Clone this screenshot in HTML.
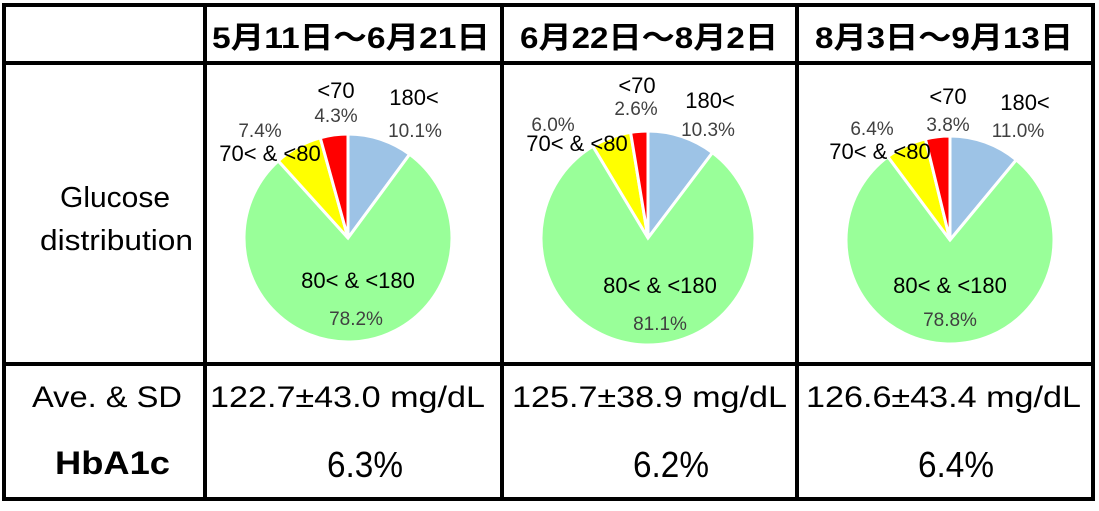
<!DOCTYPE html>
<html><head><meta charset="utf-8"><style>
body{margin:0;background:#fff;width:1099px;height:506px;overflow:hidden}
svg text{font-family:"Liberation Sans","Noto Sans CJK JP",sans-serif}
</style></head><body>
<svg id="s" width="1099" height="506">
<g stroke="#000" stroke-width="4" fill="none">
<rect x="4" y="5" width="1089" height="494"/>
<line x1="4" y1="63" x2="1093" y2="63"/>
<line x1="4" y1="364" x2="1093" y2="364"/>
<line x1="205" y1="5" x2="205" y2="499"/>
<line x1="502" y1="5" x2="502" y2="499"/>
<line x1="797" y1="5" x2="797" y2="499"/>
</g>
<g font-weight="bold" font-size="30">
<text x="212" y="48" textLength="278" lengthAdjust="spacingAndGlyphs">5月11日～6月21日</text>
<text x="520" y="48" textLength="258" lengthAdjust="spacingAndGlyphs">6月22日～8月2日</text>
<text x="815" y="48" textLength="258" lengthAdjust="spacingAndGlyphs">8月3日～9月13日</text>
</g>
<text x="60" y="207" font-size="29" textLength="110" lengthAdjust="spacingAndGlyphs">Glucose</text>
<text x="40" y="250" font-size="29" textLength="153" lengthAdjust="spacingAndGlyphs">distribution</text>
<text x="32" y="407" font-size="30" textLength="150" lengthAdjust="spacingAndGlyphs">Ave. &amp; SD</text>
<text x="55" y="474" font-size="32" font-weight="bold" textLength="115" lengthAdjust="spacingAndGlyphs">HbA1c</text>
<g font-size="30">
<text x="210" y="407" textLength="275" lengthAdjust="spacingAndGlyphs">122.7±43.0 mg/dL</text>
<text x="512" y="407" textLength="275" lengthAdjust="spacingAndGlyphs">125.7±38.9 mg/dL</text>
<text x="806" y="407" textLength="275" lengthAdjust="spacingAndGlyphs">126.6±43.4 mg/dL</text>
</g>
<g font-size="36">
<text x="327" y="477" textLength="76" lengthAdjust="spacingAndGlyphs">6.3%</text>
<text x="633" y="477" textLength="76" lengthAdjust="spacingAndGlyphs">6.2%</text>
<text x="918" y="477" textLength="76" lengthAdjust="spacingAndGlyphs">6.4%</text>
</g>
<g id="pies"></g>
</svg>
<script>
const categories = ["180<", "80< & <180", "70< & <80", "<70"];
const colors = ["#9dc3e6", "#99ff99", "#ffff00", "#ff0000"];
const pie1 = [10.1, 78.2, 7.4, 4.3];
const pie2 = [10.3, 81.1, 6.0, 2.6];
const pie3 = [11.0, 78.8, 6.4, 3.8];
const series = [pie1, pie2, pie3];
const centers = [[348,238,104],[648,238,107],[950,240,104]];
const labelPos = [
 [[[414,105],[415,137]],[[358,288],[356,325]],[[270,161],[260,137]],[[336,98],[336,122]]],
 [[[710,108],[708,136]],[[660,293],[660,330]],[[577,151],[553,131]],[[637,93],[636,115]]],
 [[[1025,110],[1018,137]],[[950,293],[950,326]],[[880,159],[872,135]],[[948,104],[948,131]]]
];
const ns="http://www.w3.org/2000/svg";
const g=document.getElementById('pies');
series.forEach((vals,pi)=>{
  const [cx,cy,r]=centers[pi];
  const tot=vals.reduce((a,b)=>a+b,0);
  let a0=0;
  vals.forEach((v,i)=>{
    const a1=a0+v/tot*2*Math.PI;
    const x0=cx+r*Math.sin(a0),y0=cy-r*Math.cos(a0),x1=cx+r*Math.sin(a1),y1=cy-r*Math.cos(a1);
    const p=document.createElementNS(ns,'path');
    p.setAttribute('d',`M${cx},${cy}L${x0},${y0}A${r},${r} 0 ${a1-a0>Math.PI?1:0} 1 ${x1},${y1}Z`);
    p.setAttribute('fill',colors[i]);p.setAttribute('stroke','#fff');p.setAttribute('stroke-width','3');
    
    
    g.appendChild(p);
    a0=a1;
  });
  vals.forEach((v,i)=>{
    const [lp,vp]=labelPos[pi][i];
    const t=document.createElementNS(ns,'text');
    t.setAttribute('x',lp[0]);t.setAttribute('y',lp[1]);t.setAttribute('font-size','22');t.setAttribute('text-anchor','middle');
    t.textContent=categories[i];
    
    
    g.appendChild(t);
    const u=document.createElementNS(ns,'text');
    u.setAttribute('x',vp[0]);u.setAttribute('y',vp[1]);u.setAttribute('font-size','19');u.setAttribute('fill','#404040');u.setAttribute('text-anchor','middle');
    u.textContent=v.toFixed(1)+'%';
    
    
    g.appendChild(u);
  });
});
</script>
</body></html>
